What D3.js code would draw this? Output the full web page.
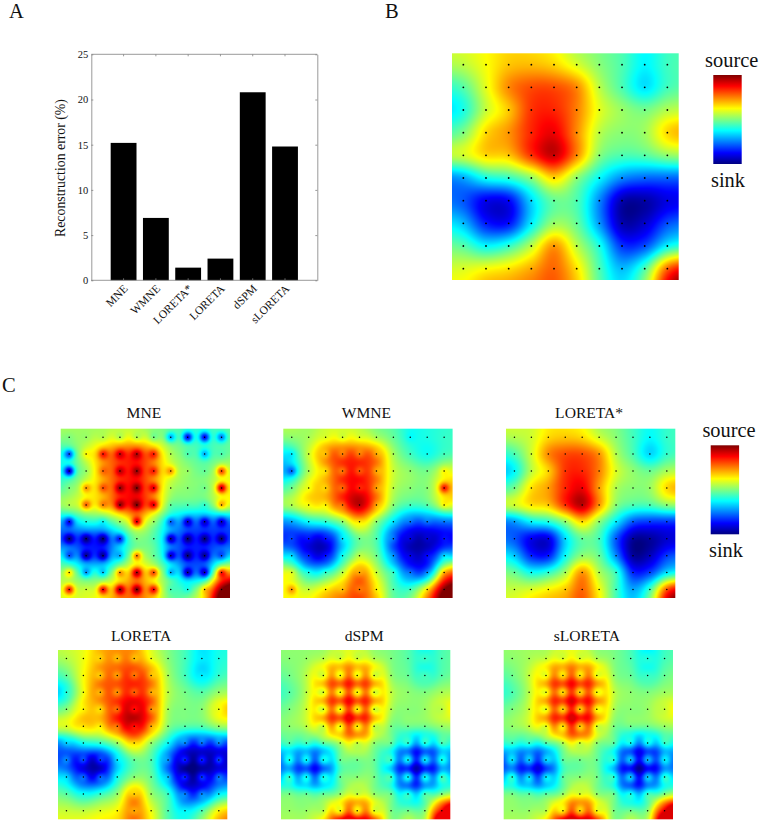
<!DOCTYPE html>
<html><head><meta charset="utf-8">
<script src="https://cdn.jsdelivr.net/npm/d3@7"></script>
<style>html,body{margin:0;padding:0;background:#fff}svg{display:block}text{font-family:"Liberation Serif",serif;fill:#111}</style>
</head><body><svg id="fig" width="760" height="821"></svg>
<script>
// --- Bar chart data
const methods = ["MNE","WMNE","LORETA*","LORETA","dSPM","sLORETA"];
const errorValues = [15.2,6.9,1.4,2.4,20.8,14.8];
const errorTicks = [0,5,10,15,20,25];
// --- Maps: source density in hundredths on a -100..100 scale, 10 rows x 10 columns of electrodes
const electrodeIndex = [0,1,2,3,4,5,6,7,8,9];
const targetField = [
[12,24,36,38,33,18,2,-10,-26,-13],
[-8,20,48,60,60,48,12,-10,-30,-12],
[-20,14,36,65,68,50,20,5,-2,10],
[0,32,46,68,78,48,12,2,6,32],
[16,32,36,65,85,48,2,-10,-8,3],
[-42,-22,-15,3,32,3,-25,-48,-55,-55],
[-58,-78,-75,-32,-5,-10,-48,-90,-92,-80],
[-38,-70,-72,-28,5,-5,-45,-90,-85,-60],
[-8,-25,-15,12,45,12,-20,-65,-60,-25],
[18,24,30,42,55,30,-10,-38,-10,55]];
const mneBase = [
[3,8,15,22,22,10,-2,-12,-15,-8],
[-12,15,42,60,65,45,10,-3,-12,-5],
[-15,8,42,62,70,45,18,2,-2,12],
[-3,18,38,65,72,45,10,3,2,20],
[8,20,32,60,72,42,-2,-8,-8,12],
[-35,-20,-15,2,30,2,-30,-48,-52,-52],
[-60,-65,-65,-30,-3,-8,-45,-65,-68,-62],
[-32,-58,-58,-22,5,-2,-42,-65,-62,-38],
[0,-15,-12,12,42,15,-12,-45,-40,28],
[15,12,20,42,52,30,-5,-10,20,100]];
const mneSpots = [
[0,5,10,10,10,-2,-40,-75,-75,-50],
[-60,25,72,85,90,70,10,-10,-40,-10],
[-85,5,55,88,95,70,45,5,-5,60],
[0,45,60,95,100,80,10,2,-2,85],
[10,55,50,95,100,80,-5,-10,-15,40],
[-75,-20,-25,5,80,5,-55,-85,-85,-85],
[-100,-100,-100,-70,0,-10,-90,-100,-100,-100],
[-60,-95,-95,-40,50,-5,-85,-100,-95,-60],
[30,-45,-35,45,90,60,-40,-90,-85,70],
[70,15,75,95,100,75,-10,-20,35,100]];
const wmneBase = [
[3,8,22,25,22,10,-5,-20,-20,-15],
[-20,15,50,62,62,50,8,-12,-22,-12],
[-30,10,40,68,72,52,15,3,-2,15],
[-3,28,42,68,78,52,12,2,2,30],
[10,28,34,65,86,50,2,-12,-8,15],
[-42,-24,-16,3,36,3,-30,-58,-58,-52],
[-68,-78,-80,-36,-3,-10,-62,-88,-90,-78],
[-38,-74,-78,-26,8,-3,-52,-85,-80,-42],
[12,-25,-20,12,52,15,-20,-58,-52,35],
[22,14,28,45,60,32,-8,-12,30,100]];
const wmneSpots = [
[3,8,18,16,18,8,-5,-25,-20,-15],
[-28,15,38,50,50,42,8,-12,-22,-12],
[-55,10,32,52,58,42,15,3,-2,25],
[-3,22,34,55,68,44,12,2,2,72],
[10,24,28,54,88,42,2,-12,-8,25],
[-42,-24,-16,3,30,3,-30,-52,-52,-52],
[-62,-72,-72,-30,-3,-10,-52,-82,-84,-72],
[-32,-68,-72,-22,12,-3,-46,-80,-74,-32],
[18,-20,-15,12,42,15,-15,-52,-46,40],
[45,14,28,38,52,28,-8,-12,30,100]];
const loretaStarField = [
[10,16,32,36,32,16,2,-12,-25,-15],
[-10,16,48,60,60,46,10,-10,-32,-15],
[-25,12,34,65,68,50,18,3,-4,8],
[-2,30,44,68,78,44,10,2,5,32],
[16,30,36,66,88,46,2,-10,-10,2],
[-44,-26,-18,3,32,3,-28,-58,-64,-64],
[-58,-78,-80,-32,-5,-12,-58,-94,-94,-84],
[-36,-68,-70,-24,3,-5,-48,-94,-88,-64],
[-5,-22,-15,8,45,10,-15,-68,-62,-30],
[14,18,26,36,55,24,-12,-42,-12,58]];
const loretaBase = [
[10,22,42,50,50,25,2,-12,-30,-20],
[-5,24,50,60,68,50,8,-12,-32,-15],
[-22,24,55,62,72,55,12,-2,-8,5],
[2,32,42,72,88,62,8,0,2,28],
[20,34,35,66,85,52,2,-8,-8,5],
[-42,-22,-15,5,38,5,-25,-64,-70,-64],
[-64,-82,-86,-36,-5,-10,-58,-96,-96,-90],
[-38,-72,-76,-26,2,-5,-48,-96,-90,-70],
[-8,-25,-15,4,45,6,-15,-66,-64,-30],
[14,12,18,26,52,22,-10,-30,-10,26]];
const loretaSpots = [
[10,22,34,38,38,22,2,-12,-28,-20],
[-5,24,36,44,52,38,8,-12,-28,-15],
[-18,22,40,46,56,42,12,-2,-8,5],
[2,27,32,54,72,48,8,0,2,22],
[18,30,28,52,72,42,2,-8,-8,5],
[-34,-22,-15,5,32,5,-25,-48,-52,-48],
[-48,-60,-64,-30,-5,-10,-46,-68,-68,-62],
[-32,-54,-56,-22,2,-5,-38,-68,-64,-52],
[-8,-22,-15,4,34,6,-15,-50,-48,-28],
[14,12,18,26,42,22,-10,-26,-10,26]];
const dspmBase = [
[2,5,15,30,30,15,0,-8,-24,-10],
[-2,12,50,75,75,55,5,-5,-24,-8],
[-8,12,58,85,85,65,14,3,0,8],
[0,16,62,90,95,66,10,2,5,22],
[3,12,50,80,90,48,0,-3,-3,5],
[-18,-24,-20,16,40,6,-12,-55,-62,-30],
[-62,-80,-76,-14,-2,-5,-50,-96,-100,-64],
[-50,-76,-72,-12,2,-2,-46,-98,-96,-50],
[-5,-12,-12,5,34,5,-10,-55,-36,0],
[5,5,22,70,80,55,0,-3,3,100]];
const dspmSpots = [
[2,5,12,16,16,10,0,-8,-14,-10],
[-2,12,18,24,24,18,5,-5,-12,-8],
[-8,12,18,25,25,18,14,3,0,8],
[0,16,18,25,28,18,10,2,5,12],
[3,12,16,24,28,16,0,-3,-3,5],
[-10,-12,-8,10,14,4,-6,-18,-18,-12],
[-22,-26,-24,-6,-2,-5,-16,-28,-30,-22],
[-16,-24,-22,-6,2,-2,-14,-26,-26,-14],
[-2,-6,-6,5,14,5,-5,-18,-12,0],
[5,5,12,24,28,20,0,-3,3,78]];
const sloretaBase = [
[3,8,18,32,32,15,0,-10,-28,-12],
[-3,14,54,78,78,58,5,-5,-22,-5],
[-10,12,60,88,90,68,14,3,0,6],
[0,16,64,92,100,70,10,2,5,22],
[4,14,52,84,96,52,0,-3,-3,5],
[-20,-28,-22,16,42,6,-15,-60,-66,-34],
[-70,-86,-80,-16,-2,-5,-52,-100,-100,-68],
[-54,-82,-78,-14,2,-2,-48,-100,-100,-52],
[-5,-14,-14,5,38,5,-10,-58,-38,0],
[5,5,22,72,84,58,0,-3,3,100]];
const sloretaSpots = [
[3,8,14,18,18,10,0,-10,-18,-12],
[-3,14,22,30,30,22,5,-5,-14,-5],
[-10,12,22,32,34,24,14,3,0,6],
[0,16,22,34,36,26,10,2,5,14],
[4,14,20,30,36,18,0,-3,-3,5],
[-14,-16,-10,10,16,4,-8,-24,-24,-15],
[-30,-36,-34,-8,-2,-5,-20,-38,-40,-28],
[-18,-32,-30,-8,2,-2,-18,-36,-36,-18],
[-2,-8,-8,5,18,5,-5,-22,-14,0],
[5,5,12,28,34,24,0,-3,3,82]];
const colorDomain = [-100,-75,-25,25,75,100];
const colorStops = ["#000080","#0000ff","#00ffff","#ffff00","#ff0000","#800000"];

const maps = [
 {name:null,x:452,y:53.3,size:226.7,base:targetField,spots:null,r:0.9},
 {name:"MNE",x:60.7,y:428.7,size:169.3,base:mneBase,spots:mneSpots,r:0.75,sigma:0.21},
 {name:"WMNE",x:283.3,y:428.7,size:169.3,base:wmneBase,spots:wmneSpots,r:0.75,sigma:0.21},
 {name:"LORETA*",x:506,y:428.7,size:169.3,base:loretaStarField,spots:null,r:0.75},
 {name:"LORETA",x:58,y:650,size:169.3,base:loretaBase,spots:loretaSpots,r:0.75,sigma:0.21},
 {name:"dSPM",x:281,y:650,size:169.3,base:dspmBase,spots:dspmSpots,r:0.75,sigma:0.3,cap:78},
 {name:"sLORETA",x:503.7,y:650,size:169.3,base:sloretaBase,spots:sloretaSpots,r:0.75,sigma:0.3,cap:82}
];

const svg = d3.select("#fig");
const jet = d3.scaleLinear().domain(colorDomain).range(colorStops).clamp(true);

// panel letters
[["A",9,18.4],["B",385,18.4],["C",2,392]].forEach(([t,x,y])=>
  svg.append("text").attr("x",x).attr("y",y).attr("font-size",20.5).text(t));

// --- A: bars
const plot = {l:91.3,r:317.3,t:54.3,b:280.3};
const xPos = d3.scaleBand().domain(methods).range([plot.l+16.15,plot.r-16.15]).paddingInner(0.2).paddingOuter(0.1);
const yPos = d3.scaleLinear().domain([0,25]).range([plot.b,plot.t]);
const gA = svg.append("g");
gA.selectAll("rect.bar").data(methods).join("rect").attr("class","bar")
  .attr("x",d=>xPos(d)).attr("width",xPos.bandwidth())
  .attr("y",(d,i)=>yPos(errorValues[i])).attr("height",(d,i)=>plot.b-yPos(errorValues[i])).attr("fill","#000");
const style = g=>{g.selectAll("path,line").attr("stroke","#808080").attr("stroke-width",0.8);
  g.selectAll("text").attr("font-family","Liberation Serif").attr("fill","#222");};
gA.append("g").attr("transform",`translate(${plot.l},0)`)
  .call(d3.axisLeft(yPos).tickValues(errorTicks).tickFormat(d3.format("d")).tickSizeInner(-2).tickSizeOuter(0).tickPadding(3))
  .call(style).call(g=>g.selectAll("text").attr("font-size",10.5));
gA.append("g").attr("transform",`translate(${plot.r},0)`)
  .call(d3.axisRight(yPos).tickValues(errorTicks).tickFormat("").tickSizeInner(-2).tickSizeOuter(0)).call(style);
gA.append("g").attr("transform",`translate(0,${plot.t})`)
  .call(d3.axisBottom(xPos).tickFormat("").tickSizeInner(2).tickSizeOuter(0)).call(style)
  .call(g=>g.select("path").attr("d",`M${plot.l},0H${plot.r}`));
const xAxisG = gA.append("g").attr("transform",`translate(0,${plot.b})`)
  .call(d3.axisBottom(xPos).tickSizeInner(-2).tickSizeOuter(0).tickPadding(0)).call(style)
  .call(g=>g.select("path").attr("d",`M${plot.l},0H${plot.r}`));
xAxisG.selectAll("text").attr("font-size",11.5).attr("text-anchor","end").attr("dy",0).attr("y",0)
  .attr("transform","translate(5,9) rotate(-45)");
gA.append("text").attr("transform","translate(65,168) rotate(-90)").attr("text-anchor","middle")
  .attr("font-size",13.8).text("Reconstruction error (%)");

// --- heat maps
function catmull(p0,p1,p2,p3,t){
  return 0.5*(2*p1+(p2-p0)*t+(2*p0-5*p1+4*p2-p3)*t*t+(3*p1-p0-3*p2+p3)*t*t*t);
}
function sample(m,fr,fc){
  const at=(r,c)=>{ // mild extrapolation past the border
    const rr=Math.min(9,Math.max(0,r)), cc=Math.min(9,Math.max(0,c));
    let v=m[rr][cc];
    if(r!==rr){const n=m[r<0?1:8][cc]; v+=0.4*(v-n)*Math.abs(r-rr);}
    if(c!==cc){const n=m[rr][c<0?1:8]; v+=0.4*(v-n)*Math.abs(c-cc);}
    return v;};
  const r0=Math.floor(fr), c0=Math.floor(fc), tr=fr-r0, tc=fc-c0;
  const row=[-1,0,1,2].map(dr=>catmull(at(r0+dr,c0-1),at(r0+dr,c0),at(r0+dr,c0+1),at(r0+dr,c0+2),tc));
  return catmull(row[0],row[1],row[2],row[3],tr);
}
function rasterize(p){
  const n=Math.round(p.size), cv=document.createElement("canvas"); cv.width=cv.height=n;
  const ctx=cv.getContext("2d"), img=ctx.createImageData(n,n);
  const toGrid=d3.scaleLinear().domain([0,n]).range([-0.5,9.5]);
  const s2=2*(p.sigma||1)*(p.sigma||1);
  for(let py=0;py<n;py++)for(let px=0;px<n;px++){
    const fr=toGrid(py+0.5), fc=toGrid(px+0.5);
    let v=sample(p.base,fr,fc);
    if(p.spots){
      electrodeIndex.forEach(r=>{ if(Math.abs(r-fr)>1.5) return;
        electrodeIndex.forEach(c=>{ if(Math.abs(c-fc)>1.5) return;
          const d=(r-fr)*(r-fr)+(c-fc)*(c-fc);
          v+=(p.spots[r][c]-p.base[r][c])*Math.exp(-d/s2);
        });});
    }
    if(p.cap) v=Math.min(v,p.cap);
    const col=d3.rgb(jet(v)), i=(py*n+px)*4;
    img.data[i]=col.r;img.data[i+1]=col.g;img.data[i+2]=col.b;img.data[i+3]=255;
  }
  ctx.putImageData(img,0,0);
  return cv.toDataURL();
}
maps.forEach(p=>{
  const g=svg.append("g").attr("class","map");
  g.append("image").attr("x",p.x).attr("y",p.y).attr("width",p.size).attr("height",p.size)
    .attr("preserveAspectRatio","none").attr("href",rasterize(p));
  const pos=d3.scaleBand().domain(electrodeIndex).range([0,p.size]);
  const dots=electrodeIndex.flatMap(r=>electrodeIndex.map(c=>[r,c]));
  g.selectAll("circle").data(dots).join("circle")
    .attr("cx",d=>p.x+pos(d[1])+pos.bandwidth()/2).attr("cy",d=>p.y+pos(d[0])+pos.bandwidth()/2)
    .attr("r",p.r).attr("fill","#000");
  if(p.name){
    g.append("text").attr("x",p.x+p.size/2-1.5).attr("y",p.y<500?418:640.7).attr("text-anchor","middle")
      .attr("font-size",15.6).text(p.name);
  }
});

// --- colour bars
const gradPos = d3.scaleLinear().domain([-100,100]).range(["100%","0%"]);
const grad = svg.append("defs").append("linearGradient").attr("id","jetGrad")
  .attr("x1",0).attr("y1",0).attr("x2",0).attr("y2",1);
grad.selectAll("stop").data(colorDomain.slice().reverse()).join("stop")
  .attr("offset",d=>gradPos(d)).attr("stop-color",d=>jet(d));
[{x:713.3,y:75,tx:731.7,sy:66.7,ky:186.7,kx:728},{x:710.7,y:445.3,tx:729,sy:436.7,ky:556.7,kx:726}].forEach(b=>{
  svg.append("rect").attr("x",b.x).attr("y",b.y).attr("width",28.4).attr("height",89).attr("fill","url(#jetGrad)");
  svg.append("text").attr("x",b.tx).attr("y",b.sy).attr("text-anchor","middle").attr("font-size",20.4).text("source");
  svg.append("text").attr("x",b.kx).attr("y",b.ky).attr("text-anchor","middle").attr("font-size",20.4).text("sink");
});
</script></body></html>
